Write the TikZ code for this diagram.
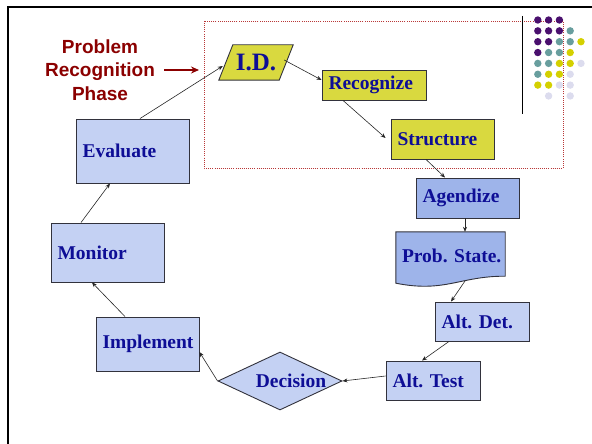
\documentclass[tikz,border=0pt]{standalone}
\usepackage{fontspec}
\setmainfont{Liberation Serif}
\newfontfamily\headfont{Liberation Sans}
\usetikzlibrary{shapes.geometric,arrows.meta,backgrounds}
\definecolor{boxtext}{RGB}{14,14,150}
\definecolor{palefill}{RGB}{196,209,243}
\definecolor{deepfill}{RGB}{158,180,234}
\definecolor{idyellow}{RGB}{217,217,63}
\definecolor{phasered}{RGB}{139,0,0}
\definecolor{zonered}{RGB}{185,55,55}
\definecolor{edgegray}{RGB}{50,50,60}
\definecolor{dotpurple}{RGB}{74,16,110}
\definecolor{dotteal}{RGB}{104,158,158}
\definecolor{dotyellow}{RGB}{212,208,0}
\definecolor{dotlav}{RGB}{220,220,238}

\begin{document}
\frenchspacing
\begin{tikzpicture}[x=1pt,y=-1pt,
  stagefont/.style={font=\bfseries\fontsize{19.5}{22}\selectfont, text=boxtext},
  stage/.style={stagefont, draw=edgegray, line width=0.9pt, align=left,
    inner xsep=6.5pt, inner ysep=0pt},
  pale/.style={stage, fill=palefill},
  deep/.style={stage, fill=deepfill},
  sunny/.style={stage, fill=idyellow},
  flow/.style={draw=black!85, line width=0.6pt, -{Stealth[length=5pt,width=4pt]}},
]
\useasboundingbox (0,0) rectangle (592,444);

% slide frame
\draw[line width=2.5pt] (592,7) -- (8,7) -- (8,444);

% problem recognition zone
\draw[zonered, line width=0.9pt, dash pattern=on 1pt off 1.1pt] (204,21) rectangle (563,168);

% corner ornament
\draw[line width=1pt] (522,16) -- (522,114);
\foreach \c/\r/\col in {
  0/0/dotpurple, 1/0/dotpurple, 2/0/dotpurple,
  0/1/dotpurple, 1/1/dotpurple, 2/1/dotpurple, 3/1/dotteal,
  0/2/dotpurple, 1/2/dotpurple, 2/2/dotteal, 3/2/dotteal, 4/2/dotyellow,
  0/3/dotpurple, 1/3/dotteal, 2/3/dotteal, 3/3/dotyellow,
  0/4/dotteal, 1/4/dotteal, 2/4/dotyellow, 3/4/dotyellow, 4/4/dotlav,
  0/5/dotteal, 1/5/dotyellow, 2/5/dotyellow, 3/5/dotlav,
  0/6/dotyellow, 1/6/dotyellow, 2/6/dotlav, 3/6/dotlav,
  1/7/dotlav, 3/7/dotlav}
  \fill[\col] (537.8+10.8*\c, 20+10.85*\r) circle (3.7);

% phase label
\node[font=\headfont\bfseries\fontsize{19}{23.5}\selectfont, text=phasered,
  align=center, inner sep=0pt] (phase) at (100,70) {Problem\\Recognition\\Phase};
\coordinate (phasetip) at (199,70);
\draw[phasered, line width=1.4pt, -{Stealth[length=8pt,width=7pt]}]
  ([xshift=9pt]phase.east) -- (phasetip);

% stages
\node[stagefont, inner sep=0pt, minimum width=60pt, minimum height=35pt] (id) at (256,62.5)
  {\fontsize{25}{28}\selectfont I.D.};
\node[sunny, text width=91pt, minimum height=30pt] (rc) at (374,85) {Recognize};
\node[sunny, text width=90pt, minimum height=40pt] (st) at (442.5,139) {Structure};
\node[deep, text width=90pt, minimum height=40pt] (ag) at (467.5,198) {Agendize};
\node[stagefont, align=left, inner xsep=6pt, inner ysep=0pt, text width=97pt,
  minimum height=47pt] (ps) at (450.5,255.5) {\mbox{Prob. State.}};
\node[pale, text width=81pt, minimum height=39pt] (ad) at (482,321.5) {Alt. Det.};
\node[pale, text width=81pt, minimum height=39pt] (at) at (433,380.5) {Alt. Test};
\node[diamond, draw=edgegray, line width=0.9pt, fill=palefill, inner sep=0pt,
  minimum width=124pt, minimum height=58pt,
  label={[stagefont, xshift=11pt]center:Decision}] (de) at (280,381) {};
\node[pale, text width=90pt, minimum height=54pt] (im) at (147.5,344) {Implement};
\node[pale, text width=100pt, minimum height=59pt] (mo) at (107.5,252.5) {Monitor};
\node[pale, text width=100pt, minimum height=64pt] (ev) at (132.5,151) {Evaluate};

% outlines drawn behind the texts
\begin{scope}[on background layer]
  \draw[draw=edgegray, line width=0.9pt, fill=idyellow]
    ([xshift=7pt]id.north west) -- ([xshift=7pt]id.north east)
    -- ([xshift=-7pt]id.south east) -- ([xshift=-7pt]id.south west) -- cycle;
  \draw[draw=edgegray, line width=0.9pt, fill=deepfill]
    (ps.north west) -- (ps.north east) -- ([shift={(0,-3)}]ps.south east)
    .. controls (460,276) and (445,293) .. ([shift={(0,4)}]ps.south west) -- cycle;
\end{scope}
\coordinate (pswave) at (465,281);

% connectors
\draw[flow] ([shift={(7.5,0)}]ev.north) -- ([shift={(-3,3.5)}]id.west);
\draw[flow] ([shift={(-2,-2.5)}]id.east) -- ([shift={(0,-5)}]rc.west);
\draw[flow] ([shift={(-31,0)}]rc.south) -- ([shift={(-5,-1)}]st.west);
\draw[flow] ([shift={(-16.5,0)}]st.south) -- ([shift={(-22.5,0)}]ag.north);
\draw[flow] ([shift={(-2.5,0)}]ag.south) -- ([shift={(14.5,0)}]ps.north);
\draw[flow] (pswave) -- ([shift={(-31,0)}]ad.north);
\draw[flow] ([shift={(-33,0)}]ad.south) -- ([shift={(-11,0)}]at.north);
\draw[flow] ([shift={(0,-4.5)}]at.west) -- (de.east);
\draw[flow] (de.west) -- ([shift={(0,8)}]im.east);
\draw[flow] ([shift={(-22.5,0)}]im.north) -- ([shift={(-15.5,0)}]mo.south);
\draw[flow] ([shift={(-26.5,0)}]mo.north) -- ([shift={(-22.5,0)}]ev.south);
\end{tikzpicture}
\end{document}
